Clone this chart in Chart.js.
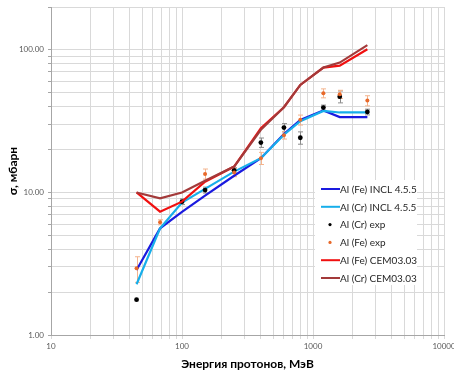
<!DOCTYPE html>
<html>
<head>
<meta charset="utf-8">
<script src="https://cdn.jsdelivr.net/npm/chart.js@4.4.1/dist/chart.umd.min.js"></script>
<style>
  html, body { margin: 0; padding: 0; background: #fff; }
</style>
</head>
<body>
<canvas id="chart" width="454" height="376"></canvas>
<script>
// proton energies, MeV
const energies = [45, 68, 100, 150, 250, 400, 600, 800, 1200, 1600, 2600];

// cross sections, mb
const feIncl = [2.86, 5.6, 7.3, 9.5, 13.1, 17.4, 25.7, 32.3, 37.6, 33.8, 33.8];
const crIncl = [2.27, 5.6, 8.5, 10.6, 14.0, 17.4, 25.4, 31.6, 37.3, 36.4, 36.4];
const crExp  = [1.77, null, 8.62, 10.4, 14.3, 22.4, 28.5, 24.2, 39.4, 47.0, 36.7];
const feExp  = [2.94, 6.18, null, 13.5, 13.8, 17.4, 25.2, 32.3, 49.7, 48.9, 44.1];
const feCem  = [10.0, 7.33, 8.62, 11.9, 15.2, 28.2, 39.6, 56.8, 75.2, 77.6, 101];
const crCem  = [10.0, 9.1, 10.0, 12.1, 15.2, 27.5, 39.6, 56.8, 75.2, 81.5, 108];

// experimental uncertainties, mb
const crErr = [null, null, 0.4, 0.5, 0.6, 1.7, 1.9, 2.4, 1.6, 4.5, 1.7];
const feErr = [0.6, 0.25, null, 1.1, 0.9, 1.7, 1.5, 2.6, 3.6, 3.2, 3.6];

const xTickValues = [10, 100, 1000, 10000];
const xTickLabels = ['10', '100', '1000', '10000'];
const yTickValues = [1, 10, 100];
const yTickLabels = ['1.00', '10.00', '100.00'];

const FONT = "Lato, 'Noto Sans', sans-serif";

function pts(values) {
  return energies.map((e, i) => ({ x: e, y: values[i] }));
}

// minor grid for each decade
function logGrid(from, to) {
  const out = [];
  for (let d = from; d < to; d *= 10) {
    for (let k = 1; k < 10; k++) out.push(d * k);
  }
  out.push(to);
  return out;
}

const errorBars = {
  id: 'errorBars',
  beforeDatasetsDraw(chart) {
    const ctx = chart.ctx;
    const xs = chart.scales.x, ys = chart.scales.y;
    chart.data.datasets.forEach((ds) => {
      if (!ds.errors) return;
      ctx.save();
      ctx.strokeStyle = ds.errorColor;
      ctx.lineWidth = 1;
      ds.data.forEach((p, i) => {
        const e = ds.errors[i];
        if (p.y == null || e == null) return;
        const x = Math.round(xs.getPixelForValue(p.x)) + 0.5;
        const y1 = ys.getPixelForValue(p.y - e);
        const y2 = ys.getPixelForValue(p.y + e);
        ctx.beginPath();
        ctx.moveTo(x, y1); ctx.lineTo(x, y2);
        ctx.moveTo(x - 2.5, y1); ctx.lineTo(x + 2.5, y1);
        ctx.moveTo(x - 2.5, y2); ctx.lineTo(x + 2.5, y2);
        ctx.stroke();
      });
      ctx.restore();
    });
  }
};

// legend box inside the plot, right side
const boxLegend = {
  id: 'boxLegend',
  afterDraw(chart) {
    const ctx = chart.ctx;
    const left = 315, top = 180, w = 102, h = 105, step = 17.8;
    ctx.save();
    ctx.fillStyle = '#ffffff';
    ctx.fillRect(left, top, w, h);
    ctx.font = '10px ' + FONT;
    ctx.textBaseline = 'middle';
    chart.data.datasets.forEach((ds, i) => {
      const y = top + 9 + i * step;
      if (ds.showLine === false) {
        ctx.fillStyle = ds.pointBackgroundColor;
        ctx.beginPath();
        ctx.arc(330, y, 1.6, 0, Math.PI * 2);
        ctx.fill();
      } else {
        ctx.strokeStyle = ds.borderColor;
        ctx.lineWidth = 2;
        ctx.beginPath();
        ctx.moveTo(321, y); ctx.lineTo(340, y);
        ctx.stroke();
      }
      ctx.fillStyle = '#262626';
      ctx.fillText(ds.label, 340, y + 0.5);
    });
    ctx.restore();
  }
};

const datasets = [
  { label: 'Al (Fe) INCL 4.5.5', data: pts(feIncl), borderColor: '#1a1adf', borderWidth: 2.2, pointRadius: 0, order: 6 },
  { label: 'Al (Cr) INCL 4.5.5', data: pts(crIncl), borderColor: '#17aeea', borderWidth: 2.2, pointRadius: 0, order: 5 },
  { label: 'Al (Cr) exp', data: pts(crExp), showLine: false, pointRadius: 2.4, pointBorderWidth: 0,
    pointBackgroundColor: '#000000', borderColor: '#000000', errors: crErr, errorColor: '#8c8c8c', order: 4 },
  { label: 'Al (Fe) exp', data: pts(feExp), showLine: false, pointRadius: 2, pointBorderWidth: 0,
    pointBackgroundColor: '#e8692a', borderColor: '#e8692a', errors: feErr, errorColor: '#f4b48e', order: 3 },
  { label: 'Al (Fe) CEM03.03', data: pts(feCem), borderColor: '#f01010', borderWidth: 2.2, pointRadius: 0, order: 2 },
  { label: 'Al (Cr) CEM03.03', data: pts(crCem), borderColor: '#a33a3a', borderWidth: 2.2, pointRadius: 0, order: 1 }
];

new Chart(document.getElementById('chart'), {
  type: 'line',
  data: { datasets: datasets },
  plugins: [errorBars, boxLegend],
  options: {
    responsive: false,
    animation: false,
    layout: { padding: { top: 7, right: 10, left: 0, bottom: 0 } },
    plugins: { legend: { display: false }, tooltip: { enabled: false } },
    elements: { line: { tension: 0 } },
    scales: {
      x: {
        type: 'logarithmic',
        min: 10, max: 10000,
        afterBuildTicks: (s) => { s.ticks = logGrid(10, 10000).map(v => ({ value: v })); },
        afterFit: (s) => { s.height = 41; s.paddingLeft = 0; s.paddingRight = 0; },
        ticks: {
          autoSkip: false, maxRotation: 0, padding: 3,
          color: '#595959', font: { family: FONT, size: 8 },
          callback: (v) => { const k = xTickValues.indexOf(v); return k < 0 ? '' : xTickLabels[k]; }
        },
        grid: { color: '#d9d9d9', tickLength: 4, tickColor: '#d9d9d9' },
        border: { color: '#a6a6a6' },
        title: {
          display: true, text: 'Энергия протонов, МэВ', color: '#000',
          font: { family: FONT, size: 12, weight: 'bold' }, padding: { top: 0, bottom: 5 }
        }
      },
      y: {
        type: 'logarithmic',
        min: 1, max: 200,
        afterBuildTicks: (s) => { s.ticks = logGrid(1, 100).concat([200]).map(v => ({ value: v })); },
        afterFit: (s) => { s.width = 51; s.paddingTop = 0; s.paddingBottom = 0; },
        ticks: {
          autoSkip: false, padding: 4,
          color: '#595959', font: { family: FONT, size: 8 },
          callback: (v) => { const k = yTickValues.indexOf(v); return k < 0 ? '' : yTickLabels[k]; }
        },
        grid: { color: '#d9d9d9', tickLength: 3, tickColor: '#a6a6a6' },
        border: { color: '#a6a6a6' },
        title: {
          display: true, text: 'σ, мбарн', color: '#000',
          font: { family: FONT, size: 12, weight: 'bold' }, padding: { top: 6, bottom: 0 }
        }
      }
    }
  }
});
</script>
</body>
</html>
